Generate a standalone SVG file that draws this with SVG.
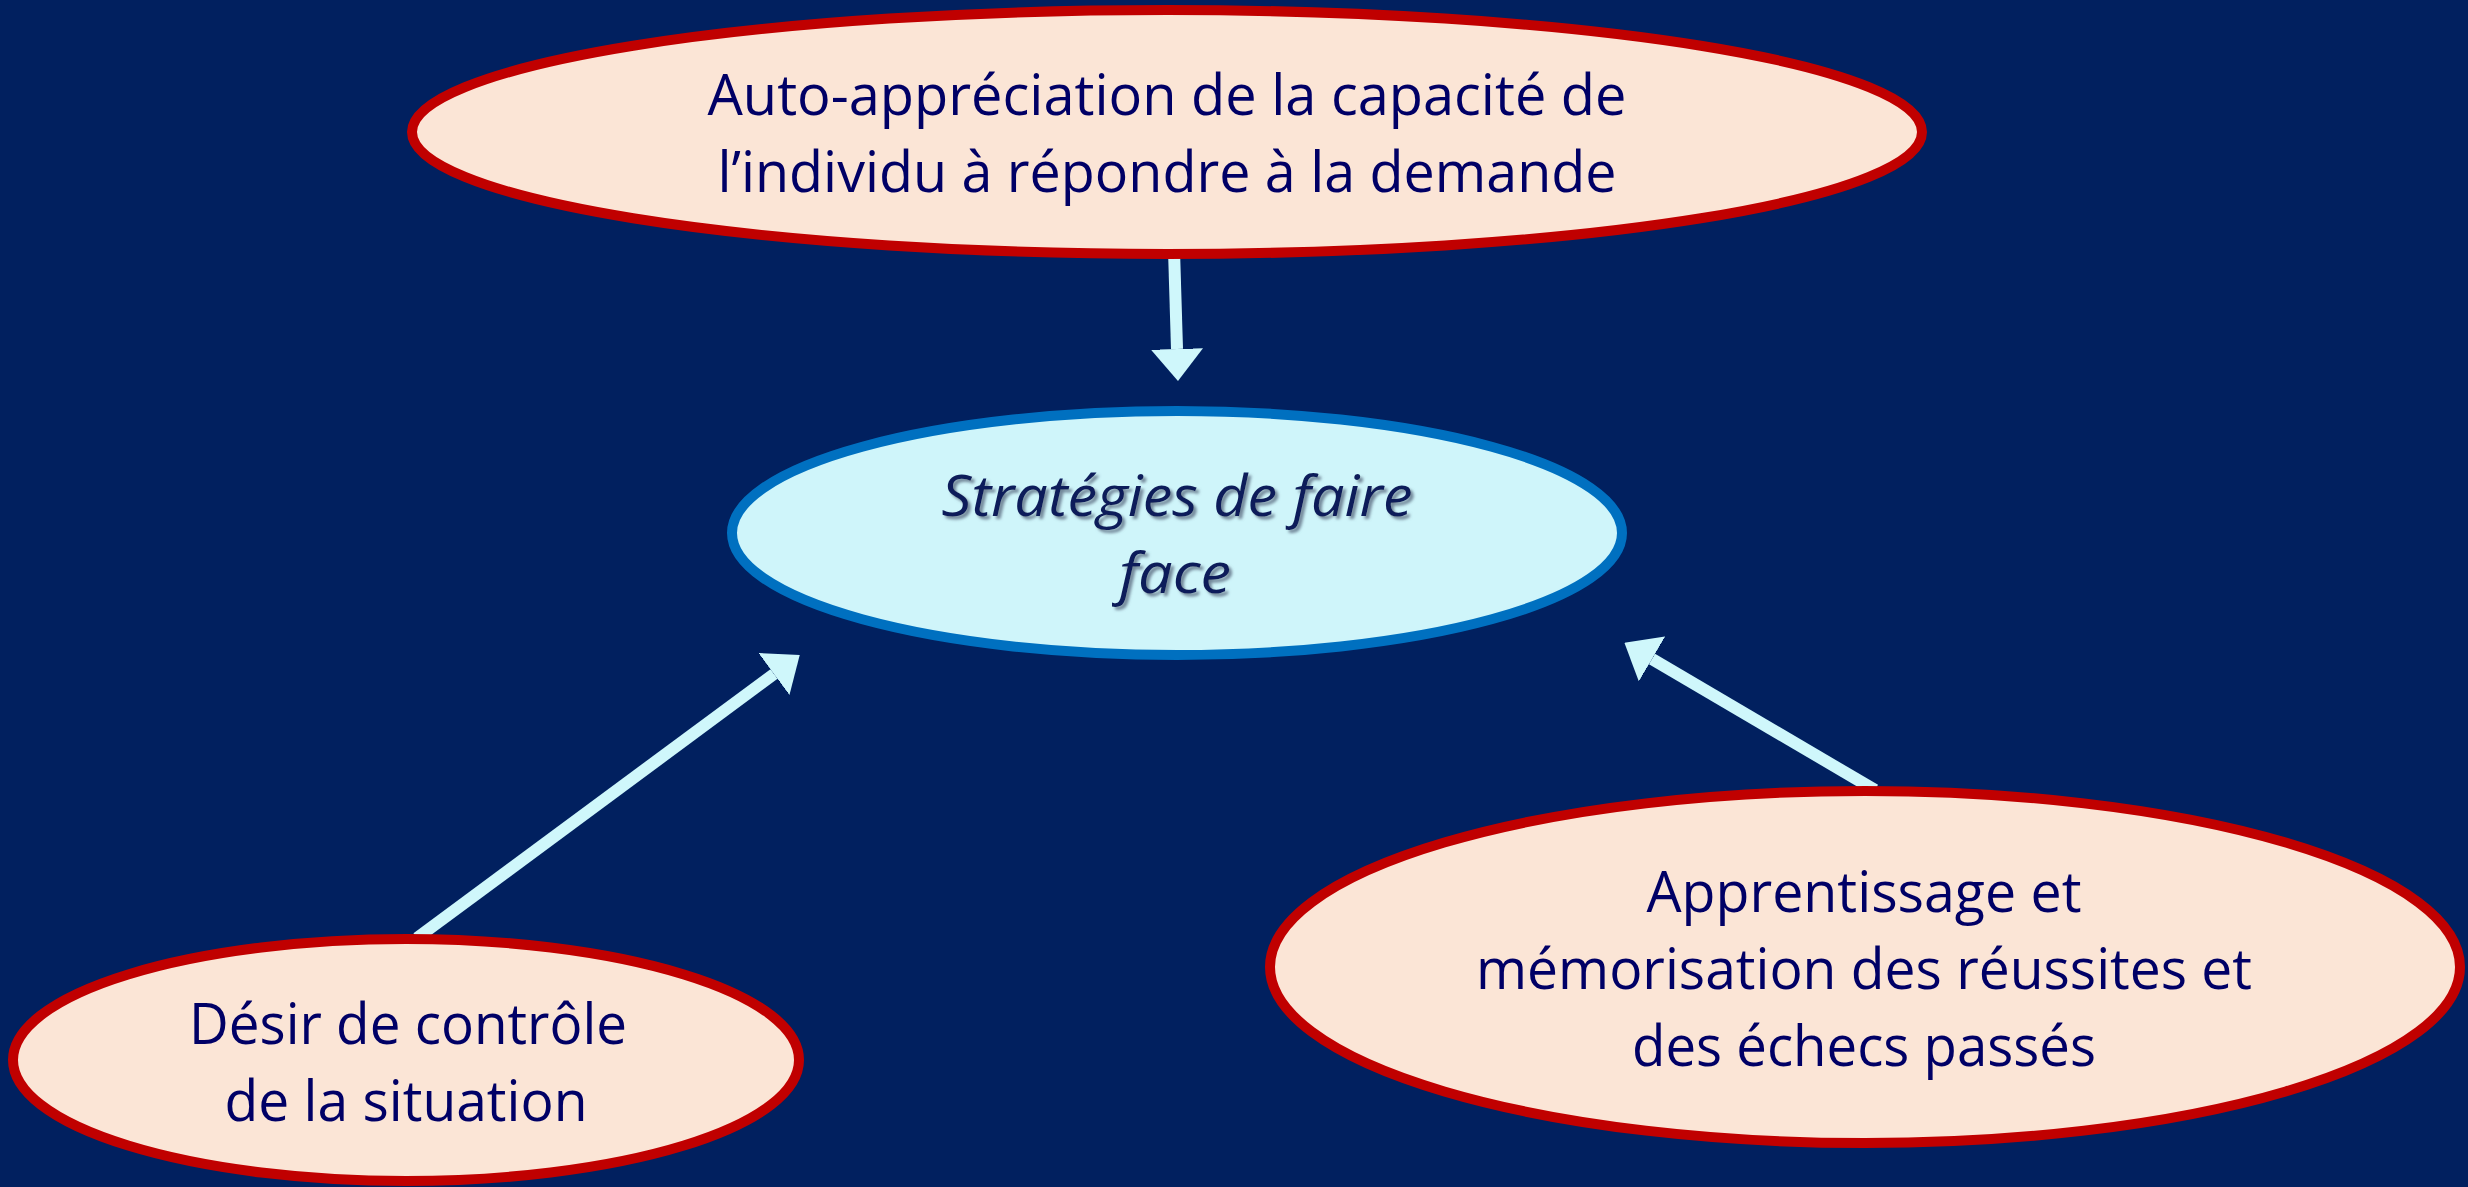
<svg xmlns="http://www.w3.org/2000/svg" width="2468" height="1187" viewBox="0 0 2468 1187">
<defs>
<style>
.peach{fill:#FBE5D6;stroke:#C00000;stroke-width:10}
.core{fill:#CFF5FA;stroke:#0070C0;stroke-width:10}
.lbl{font-family:"Open Sans","Liberation Sans",sans-serif;font-size:56px;fill:#000066;text-anchor:middle}
.ital{font-style:italic;fill:#0D1E5A}
.conn{stroke:#CFF7FB;stroke-width:12;fill:none}
</style>
<marker id="ah" viewBox="0 0 32 52" markerWidth="32" markerHeight="52" refX="0" refY="26" orient="auto" markerUnits="userSpaceOnUse">
<path d="M0,0 L32,26 L0,52 Z" fill="#CFF7FB"/>
</marker>
<filter id="sh" x="-10%" y="-20%" width="120%" height="140%">
<feDropShadow dx="3" dy="3" stdDeviation="1.5" flood-color="#5a6a80" flood-opacity="0.8"/>
</filter>
</defs>
<rect width="2468" height="1187" fill="#01205F"/>
<g id="connectors">
<line class="conn" x1="1174" y1="250" x2="1177" y2="349" marker-end="url(#ah)"/>
<line class="conn" x1="417" y1="938" x2="774" y2="674" marker-end="url(#ah)"/>
<line class="conn" x1="1875" y1="790" x2="1652" y2="659" marker-end="url(#ah)"/>
</g>
<g id="node-auto">
<ellipse class="peach" cx="1167" cy="132" rx="755" ry="122"/>
<text class="lbl" x="1167" y="115" textLength="919" lengthAdjust="spacingAndGlyphs">Auto-appréciation de la capacité de</text>
<text class="lbl" x="1167" y="192" textLength="899" lengthAdjust="spacingAndGlyphs">l’individu à répondre à la demande</text>
</g>
<g id="node-strategies">
<ellipse class="core" cx="1177" cy="533" rx="445" ry="122"/>
<g filter="url(#sh)">
<text class="lbl ital" x="1177" y="516" textLength="471" lengthAdjust="spacingAndGlyphs">Stratégies de faire</text>
<text class="lbl ital" x="1175" y="593" textLength="112" lengthAdjust="spacingAndGlyphs">face</text>
</g>
</g>
<g id="node-desir">
<ellipse class="peach" cx="406" cy="1060" rx="393" ry="121"/>
<text class="lbl" x="408" y="1044" textLength="438" lengthAdjust="spacingAndGlyphs">Désir de contrôle</text>
<text class="lbl" x="406" y="1121" textLength="363" lengthAdjust="spacingAndGlyphs">de la situation</text>
</g>
<g id="node-apprentissage">
<ellipse class="peach" cx="1865" cy="967" rx="595" ry="176"/>
<text class="lbl" x="1864" y="912" textLength="435" lengthAdjust="spacingAndGlyphs">Apprentissage et</text>
<text class="lbl" x="1864" y="989" textLength="776" lengthAdjust="spacingAndGlyphs">mémorisation des réussites et</text>
<text class="lbl" x="1864" y="1066" textLength="464" lengthAdjust="spacingAndGlyphs">des échecs passés</text>
</g>
</svg>
